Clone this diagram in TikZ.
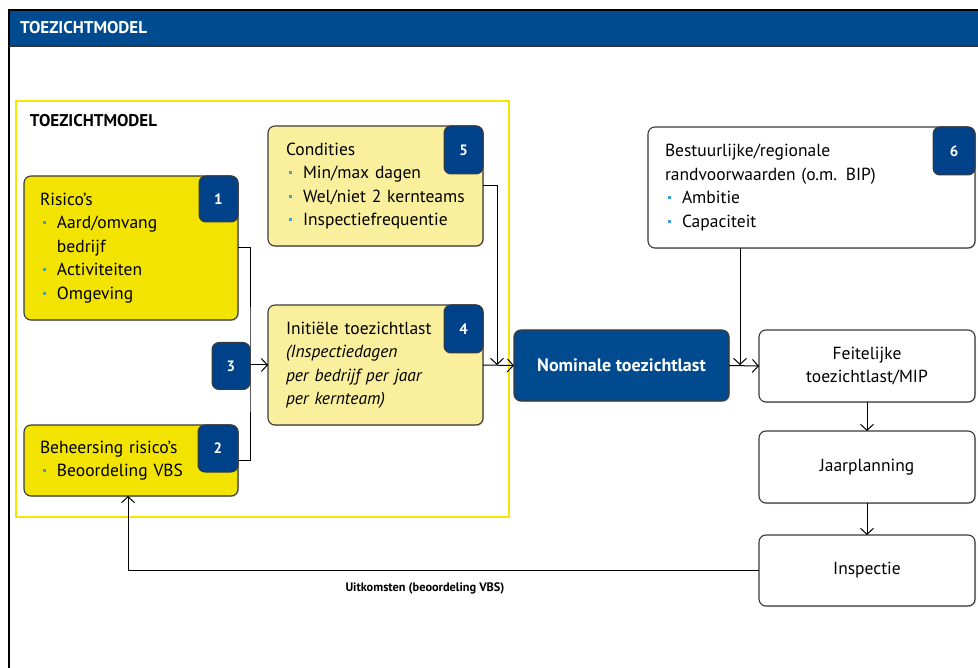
\documentclass[tikz,border=0pt]{standalone}
\usepackage{fontspec}
\setmainfont{PT Sans}
\usetikzlibrary{arrows.meta,shadows}

\definecolor{bandblue}{HTML}{004A8F}
\definecolor{badgeblue}{HTML}{00428A}
\definecolor{brightyellow}{HTML}{F2E400}
\definecolor{paleyellow}{HTML}{F9EF9C}
\definecolor{frameyellow}{HTML}{F3E600}
\definecolor{bulletcyan}{HTML}{3BA3DA}
\definecolor{edgegray}{HTML}{3A3A3A}

% bullet item prefix: small cyan square dot
\newcommand{\itm}{\hspace*{3pt}\makebox[14pt][l]{\textcolor{bulletcyan}{\rule[4.5pt]{3pt}{3pt}}}}
\newcommand{\ind}{\hspace*{17pt}}

\begin{document}
\begin{tikzpicture}[x=1pt,y=-1pt,
  every node/.style={inner sep=0pt, outer sep=0pt},
  bodyfont/.style={font=\fontsize{17.5}{23.5}\selectfont},
  box/.style={draw=edgegray, line width=1.1pt, rounded corners=7pt,
    anchor=north west, align=left, bodyfont,
    drop shadow={shadow xshift=1pt, shadow yshift=-1pt, opacity=0.35, fill=gray}},
  flowbox/.style={box, fill=white, align=center},
  badge/.style={draw=edgegray, line width=1pt, fill=badgeblue, rounded corners=7pt,
    text=white, font=\bfseries\fontsize{15}{18}\selectfont},
  arr/.style={-{Straight Barb[length=6pt,width=13pt,line width=1pt]}},
  link/.style={line width=1pt, black},
]
\useasboundingbox (0,0) rectangle (978,668);

% page frame and title band
\fill[bandblue] (9,10) rectangle (978,46);
\draw[line width=1.6pt, black] (9,668) -- (9,10) -- (978,10);
\draw[line width=1.4pt, black!80] (9,46) -- (978,46);
\node[anchor=west, text=white, font=\bfseries\fontsize{17}{18}\selectfont] (title) at (20,28) {TOEZICHTMODEL};

% model frame
\draw[frameyellow, line width=1.2pt] (16,101) rectangle (509,517);
\node[anchor=west, font=\bfseries\fontsize{17}{18}\selectfont] (modeltitle) at (30,121) {TOEZICHTMODEL};

% boxes
\node[box, fill=brightyellow, minimum width=214pt, minimum height=144pt,
  text width=182pt, inner xsep=16pt] (risk) at (24,176)
  {Risico's\\\itm Aard/omvang\\\ind bedrijf\\\itm Activiteiten\\\itm Omgeving};
\node[box, fill=brightyellow, minimum width=214pt, minimum height=71pt,
  text width=182pt, inner xsep=16pt] (control) at (24,425)
  {Beheersing risico's\\\itm Beoordeling VBS};
\node[box, fill=paleyellow, minimum width=215pt, minimum height=120pt,
  text width=179pt, inner xsep=18pt] (cond) at (268,126)
  {Condities\\\itm Min/max dagen\\\itm Wel/niet 2 kernteams\\\itm Inspectiefrequentie};
\node[box, fill=paleyellow, minimum width=215pt, minimum height=120pt,
  text width=179pt, inner xsep=18pt] (init) at (268,305)
  {Initiële toezichtlast\\\itshape (Inspectiedagen\\\itshape per bedrijf per jaar\\\itshape per kernteam)};
\node[box, fill=bandblue, text=white, align=center, minimum width=215pt, minimum height=71pt,
  font=\bfseries\fontsize{18}{20}\selectfont] (nominal) at (514,330) {Nominale toezichtlast};
\node[box, fill=white, minimum width=327pt, minimum height=121pt,
  text width=293pt, inner xsep=17pt] (admin) at (648,127)
  {Bestuurlijke/regionale\\randvoorwaarden (o.m. BIP)\\\itm Ambitie\\\itm Capaciteit};
\node[flowbox, minimum width=216pt, minimum height=72pt] (actual) at (759,330) {Feitelijke\\toezichtlast/MIP};
\node[flowbox, minimum width=216pt, minimum height=72pt] (plan) at (759,431) {Jaarplanning};
\node[flowbox, minimum width=216pt, minimum height=71pt] (insp) at (759,535) {Inspectie};

% junction points
\coordinate (j3) at (250,365);
\coordinate (j5) at (497,365);
\coordinate (j6) at (740,365);
\coordinate (fb) at (128,570);

% connectors
\draw[link] (risk.east) -| (j3) |- (control.east);
\draw[link, arr] (j3) -- (init.west);
\draw[link, arr] (cond.east) -| (j5);
\draw[link, arr] (init.east) -- (nominal.west);
\draw[link, arr] (admin.south -| j6) -- (j6);
\draw[link, arr] (nominal.east) -- (actual.west);
\draw[link, arr] (actual) -- (plan);
\draw[link, arr] (plan) -- (insp);
\draw[link, arr] (insp.west |- fb) -- (fb) -- (fb |- control.south);
\node[font=\bfseries\fontsize{12.3}{14}\selectfont] (outcome) at (425,588) {Uitkomsten (beoordeling VBS)};

% number badges
\node[badge, anchor=north east, minimum width=39pt, minimum height=46pt] (n1) at (risk.north east) {1};
\node[badge, anchor=north east, minimum width=40pt, minimum height=47pt] (n2) at (control.north east) {2};
\node[badge, minimum width=38pt, minimum height=47pt] (n3) at (231,366) {3};
\node[badge, anchor=north east, minimum width=39pt, minimum height=48pt] (n5) at (cond.north east) {5};
\node[badge, anchor=north east, minimum width=39pt, minimum height=48pt] (n4) at (init.north east) {4};
\node[badge, anchor=north east, minimum width=42pt, minimum height=48pt] (n6) at (admin.north east) {6};
\end{tikzpicture}
\end{document}
